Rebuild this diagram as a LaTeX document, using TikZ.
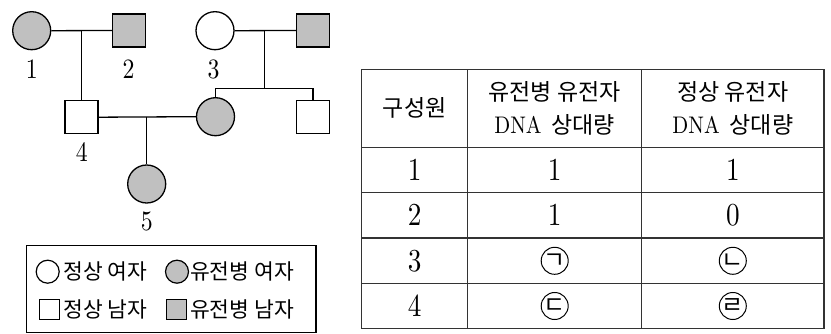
\documentclass[tikz,border=0pt]{standalone}
\usepackage{fontspec}
\newfontfamily\kr{Noto Sans CJK KR}
\newfontfamily\dgf{lmroman10-regular.otf}
\definecolor{sick}{RGB}{192,192,192}
\newcommand{\dg}[2][32]{\scalebox{0.85}[1]{\dgf\fontsize{#1}{#1}\selectfont #2}}
\newcommand{\lat}[1]{\scalebox{0.87}[1]{\dgf\fontsize{24}{24}\selectfont #1}}
\tikzset{
  pline/.style={line width=1.3pt},
  fem/.style={circle, draw, line width=1.3pt, minimum size=38pt, inner sep=0pt, fill=white},
  mal/.style={rectangle, draw, line width=1.3pt, minimum size=33pt, inner sep=0pt, fill=white},
  aff/.style={fill=sick},
  lbl/.style={inner sep=0pt},
  lfem/.style={circle, draw, line width=1.2pt, minimum size=23pt, inner sep=0pt},
  lmal/.style={rectangle, draw, line width=1.2pt, minimum size=20pt, inner sep=0pt},
  ltxt/.style={anchor=west, inner sep=0pt, font=\kr\fontsize{21.5}{22}\selectfont},
  ktxt/.style={inner sep=0pt, font=\kr\fontsize{23}{24}\selectfont},
  ctxt/.style={circle, draw, line width=1pt, minimum size=27pt, inner sep=0pt, font=\kr\fontsize{24}{24}\selectfont},
  tline/.style={line width=1.3pt, draw=black!80}
}
\begin{document}
\begin{tikzpicture}[x=1pt,y=-1pt]
\useasboundingbox (0,0) rectangle (831,334);
% pedigree
\node[fem,aff] (p1) at (31.7,30.7) {};
\node[mal,aff] (p2) at (129.2,30.5) {};
\node[fem] (p3) at (215,30.7) {};
\node[mal,aff] (p3h) at (313,30.5) {};
\node[mal] (p4) at (81.5,117.2) {};
\node[fem,aff] (p4w) at (215.5,116.7) {};
\node[mal] (p3s) at (313,117.2) {};
\node[fem,aff] (p5) at (146.7,184) {};
\coordinate (m12) at (81.5,30.7);
\coordinate (m3) at (264.3,30.7);
\coordinate (sib) at (264.3,88.3);
\coordinate (m4) at (146.7,116.7);
\draw[pline] (p1.east) -- (p2.west);
\draw[pline] (m12) -- (p4.north);
\draw[pline] (p3.east) -- (p3h.west);
\draw[pline] (m3) -- (sib);
\draw[pline] (p4w.north) |- (sib);
\draw[pline] (sib) -| (p3s.north);
\draw[pline] (p4.east) -- (p4w.west);
\draw[pline] (m4) -- (p5.north);
\node[lbl] (l1) at (31.7,69.5) {\dg[28]{1}};
\node[lbl] (l2) at (128.5,69.5) {\dg[28]{2}};
\node[lbl] (l3) at (213.5,69.5) {\dg[28]{3}};
\node[lbl] (l4) at (81.7,152) {\dg[28]{4}};
\node[lbl] (l5) at (146.7,221.5) {\dg[28]{5}};
% legend
\node[draw, line width=1.3pt, rectangle, minimum width=289.3pt, minimum height=87pt, inner sep=0pt] (legend) at (171.35,289) {};
\node[lfem] (lg1) at (47.7,271.7) {};
\node[ltxt] (lt1) at (63.3,271.7) {정상 여자};
\node[lfem,aff] (lg2) at (177,271.7) {};
\node[ltxt] (lt2) at (190,271.7) {유전병 여자};
\node[lmal] (lg3) at (49.3,309.3) {};
\node[ltxt] (lt3) at (63.3,309.3) {정상 남자};
\node[lmal,aff] (lg4) at (176.7,309.3) {};
\node[ltxt] (lt4) at (190,309.3) {유전병 남자};
% table
\draw[tline] (361.7,69.3) rectangle (824,328.3);
\draw[tline] (467.7,69.3) -- (467.7,328.3);
\draw[tline] (641.7,69.3) -- (641.7,328.3);
\foreach \yy in {147.3,192.7,238,283.7} \draw[tline] (361.7,\yy) -- (824,\yy);
\node[ktxt] (h1) at (414.7,108.3) {구성원};
\node[ktxt] (h2a) at (554.7,91.7) {유전병 유전자};
\node[ktxt] (h2b) at (554.7,125) {\lat{DNA}\hspace{10pt}상대량};
\node[ktxt] (h3a) at (732.8,91.7) {정상 유전자};
\node[ktxt] (h3b) at (732.8,125) {\lat{DNA}\hspace{10pt}상대량};
\node[lbl] (r1a) at (414.7,170) {\dg{1}};
\node[lbl] (r1b) at (554.7,170) {\dg{1}};
\node[lbl] (r1c) at (732.8,170) {\dg{1}};
\node[lbl] (r2a) at (414.7,215.3) {\dg{2}};
\node[lbl] (r2b) at (554.7,215.3) {\dg{1}};
\node[lbl] (r2c) at (732.8,215.3) {\dg{0}};
\node[lbl] (r3a) at (414.7,260.8) {\dg{3}};
\node[ctxt] (r3b) at (554.7,260.8) {ㄱ};
\node[ctxt] (r3c) at (732.8,260.8) {ㄴ};
\node[lbl] (r4a) at (414.7,306) {\dg{4}};
\node[ctxt] (r4b) at (554.7,306) {ㄷ};
\node[ctxt] (r4c) at (732.8,306) {ㄹ};
\end{tikzpicture}
\end{document}
